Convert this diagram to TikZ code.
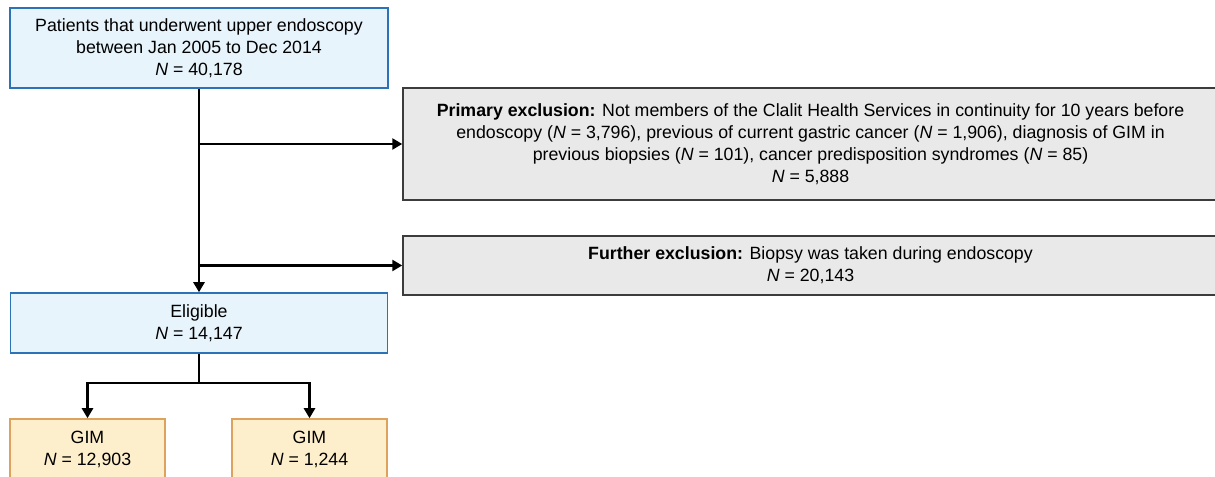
\documentclass[tikz,border=0pt]{standalone}
\usepackage{fontspec}
\setmainfont{Liberation Sans}
\usetikzlibrary{positioning, arrows.meta}

\definecolor{bluefill}{HTML}{E7F4FC}
\definecolor{blueline}{HTML}{2B73B6}
\definecolor{greyfill}{HTML}{E8E9E8}
\definecolor{greyline}{HTML}{3C3C3C}
\definecolor{gimfill}{HTML}{FEEFCC}
\definecolor{gimline}{HTML}{DDA25E}

\begin{document}
\begin{tikzpicture}[font=\fontsize{10.1}{12.5}\selectfont,
    bluebox/.style={draw=blueline, fill=bluefill, line width=0.85pt, align=center, inner sep=0pt},
    greybox/.style={draw=greyline, fill=greyfill, line width=0.85pt, align=center, inner sep=0pt},
    gimbox/.style={draw=gimline, fill=gimfill, line width=0.85pt, align=center, inner sep=0pt, minimum width=3.1cm, minimum height=1.2cm},
    flow/.style={line width=1.5pt, -{Triangle[length=0.2cm, width=0.22cm]}}]
                \useasboundingbox (0,0) rectangle (24.3,-9.54);

                \node[bluebox, minimum width=7.56cm, minimum height=1.6cm] (Patients) at (3.98,-0.96) {Patients that underwent upper endoscopy\\ between Jan 2005 to Dec 2014\\ \textit{N} = 40,178};
                \node[greybox, minimum width=16.3cm, minimum height=2.24cm] (Primary Exclusion) at (16.21,-2.88) {\textbf{Primary exclusion:} Not members of the Clalit Health Services in continuity for 10 years before\\ endoscopy (\textit{N} = 3,796), previous of current gastric cancer (\textit{N} = 1,906), diagnosis of GIM in\\ previous biopsies (\textit{N} = 101), cancer predisposition syndromes (\textit{N} = 85)\\ \textit{N} = 5,888};
                \node[greybox, minimum width=16.3cm, minimum height=1.18cm] (Further Exclusion) at (16.21,-5.31) {\textbf{Further exclusion:} Biopsy was taken during endoscopy\\ \textit{N} = 20,143};
                \node[bluebox, minimum width=7.54cm, minimum height=1.2cm] (Eligible) at (3.98,-6.46) {Eligible\\ \textit{N} = 14,147};
                \node[gimbox] (GIM Left) at (1.75,-8.98) {GIM\\ \textit{N} = 12,903};
                \node[gimbox] (GIM Right) at (6.19,-8.98) {GIM\\ \textit{N} = 1,244};

                \coordinate (Split Primary) at (Patients.south |- Primary Exclusion.west);
                \coordinate (Split Further) at (Patients.south |- Further Exclusion.west);
                \coordinate (Split GIM) at (3.98,-7.66);

                \draw[flow] (Patients) -- (Eligible);
                \draw[flow] (Split Primary) -- (Primary Exclusion.west);
                \draw[flow] (Split Further) -- (Further Exclusion.west);
                \draw[line width=1.5pt] (Eligible) -- (Split GIM);
                \draw[flow] (Split GIM) -| (GIM Left);
                \draw[flow] (Split GIM) -| (GIM Right);

            \end{tikzpicture}
\end{document}
